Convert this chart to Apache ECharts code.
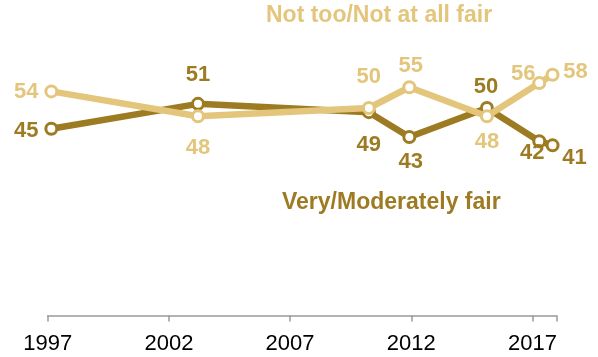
<!DOCTYPE html>
<html>
<head>
<meta charset="utf-8">
<script src="https://cdn.jsdelivr.net/npm/echarts@6/dist/echarts.min.js"></script>
<style>
  html, body { margin: 0; padding: 0; background: #fff; }
  #chart { width: 598px; height: 357px; }
</style>
</head>
<body>
<div id="chart"></div>
<script>
// Survey dates (decimal years) and shares of respondents
const surveyDates = [1997.15, 2003.2, 2010.25, 2011.92, 2015.12, 2017.28, 2017.83];
const veryModeratelyFair = [45, 51, 49, 43, 50, 42, 41];
const notTooNotAtAllFair = [54, 48, 50, 55, 48, 56, 58];
const yearTicks = [1997, 2002, 2007, 2012, 2017];
const seriesNames = ['Very/Moderately fair', 'Not too/Not at all fair'];

const DARK = '#9d7b22';
const LIGHT = '#e3c67c';
const FONT = "'Liberation Sans', Arial, sans-serif";

// Label offsets from each point's centre: [dx, dy]
const darkLabelOffset = [[-25, 2], [0, -29], [0, 33], [1.5, 25], [-1, -21], [-7, 12], [22, 13]];
const lightLabelOffset = [[-25, 1], [0, 32], [0, -31], [1.5, -21], [0, 26], [-16, -9], [23, -3]];

function buildSeries(values, offsets, color, name, z) {
  return {
    name: name,
    type: 'line',
    z: z,
    data: values.map((v, i) => ({
      value: [surveyDates[i], v],
      label: { offset: offsets[i] }
    })),
    symbol: 'circle',
    symbolSize: 11,
    showAllSymbol: true,
    lineStyle: { color: color, width: 6.5 },
    itemStyle: { color: '#fff', borderColor: color, borderWidth: 3 },
    label: {
      show: true,
      position: 'inside',
      align: 'center',
      verticalAlign: 'middle',
      color: color,
      fontFamily: FONT,
      fontWeight: 'bold',
      fontSize: 22,
      formatter: p => String(p.value[1])
    },
    emphasis: { disabled: true },
    animation: false
  };
}

const chart = echarts.init(document.getElementById('chart'), null, { renderer: 'canvas' });
chart.setOption({
  backgroundColor: '#fff',
  animation: false,
  grid: { left: 47.7, right: 41.3, top: 25, bottom: 41.5, containLabel: false },
  xAxis: {
    type: 'value',
    min: 1997,
    max: 2018,
    interval: 5,
    axisLine: { show: true, lineStyle: { color: '#9a9a9a', width: 1.5 } },
    axisTick: { show: true, length: 6, lineStyle: { color: '#9a9a9a', width: 1.5 } },
    axisLabel: {
      color: '#000',
      fontFamily: FONT,
      fontSize: 22,
      margin: 17,
      customValues: yearTicks,
      formatter: v => String(v)
    },
    splitLine: { show: false }
  },
  yAxis: {
    type: 'value',
    min: 0,
    max: 70,
    show: false
  },
  series: [
    buildSeries(veryModeratelyFair, darkLabelOffset, DARK, seriesNames[0], 2),
    buildSeries(notTooNotAtAllFair, lightLabelOffset, LIGHT, seriesNames[1], 3)
  ],
  graphic: [
    {
      type: 'text',
      left: 266, top: 4,
      style: { text: seriesNames[1], fill: LIGHT, font: "bold 23px " + FONT }
    },
    {
      type: 'text',
      left: 282, top: 191,
      style: { text: seriesNames[0], fill: DARK, font: "bold 23px " + FONT }
    }
  ]
});
</script>
</body>
</html>
